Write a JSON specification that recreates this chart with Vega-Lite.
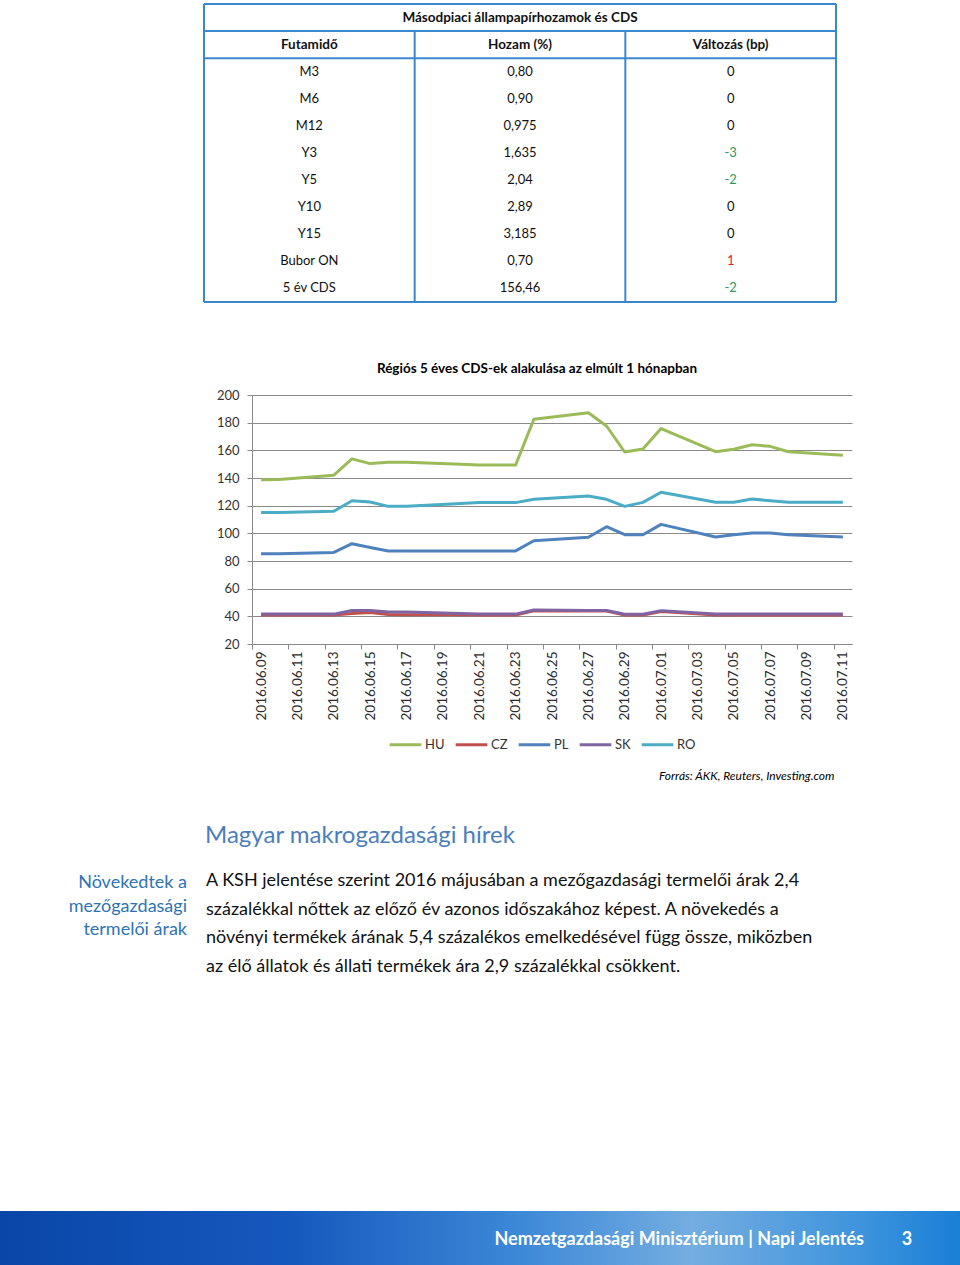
{
  "$schema": "https://vega.github.io/schema/vega-lite/v6.json",
  "padding": {"left": 0, "right": 0, "top": 3, "bottom": 0},
  "background": "white",
  "config": {"font": "Lato", "view": {"stroke": null}},
  "datasets": {
    "allampapir": [
      {"Futamidő": "M3", "Hozam (%)": "0,80", "Változás (bp)": 0},
      {"Futamidő": "M6", "Hozam (%)": "0,90", "Változás (bp)": 0},
      {"Futamidő": "M12", "Hozam (%)": "0,975", "Változás (bp)": 0},
      {"Futamidő": "Y3", "Hozam (%)": "1,635", "Változás (bp)": -3},
      {"Futamidő": "Y5", "Hozam (%)": "2,04", "Változás (bp)": -2},
      {"Futamidő": "Y10", "Hozam (%)": "2,89", "Változás (bp)": 0},
      {"Futamidő": "Y15", "Hozam (%)": "3,185", "Változás (bp)": 0},
      {"Futamidő": "Bubor ON", "Hozam (%)": "0,70", "Változás (bp)": 1},
      {"Futamidő": "5 év CDS", "Hozam (%)": "156,46", "Változás (bp)": -2}
    ],
    "cds": [
      {"dátum": "2016/06/09", "HU": 138.8, "CZ": 41.0, "PL": 85.2, "SK": 41.6, "RO": 115.0},
      {"dátum": "2016/06/10", "HU": 139.0, "CZ": 41.0, "PL": 85.3, "SK": 41.6, "RO": 115.0},
      {"dátum": "2016/06/13", "HU": 142.0, "CZ": 41.0, "PL": 86.2, "SK": 41.6, "RO": 116.0},
      {"dátum": "2016/06/14", "HU": 153.8, "CZ": 42.0, "PL": 92.5, "SK": 44.2, "RO": 123.6},
      {"dátum": "2016/06/15", "HU": 150.4, "CZ": 42.8, "PL": 89.8, "SK": 44.3, "RO": 122.6},
      {"dátum": "2016/06/16", "HU": 151.3, "CZ": 41.3, "PL": 87.3, "SK": 43.2, "RO": 119.5},
      {"dátum": "2016/06/17", "HU": 151.3, "CZ": 41.2, "PL": 87.3, "SK": 43.1, "RO": 119.6},
      {"dátum": "2016/06/20", "HU": 150.0, "CZ": 41.2, "PL": 87.3, "SK": 42.0, "RO": 121.6},
      {"dátum": "2016/06/21", "HU": 149.4, "CZ": 41.0, "PL": 87.3, "SK": 41.6, "RO": 122.2},
      {"dátum": "2016/06/22", "HU": 149.4, "CZ": 41.0, "PL": 87.3, "SK": 41.6, "RO": 122.2},
      {"dátum": "2016/06/23", "HU": 149.4, "CZ": 41.0, "PL": 87.3, "SK": 41.6, "RO": 122.2},
      {"dátum": "2016/06/24", "HU": 182.4, "CZ": 44.0, "PL": 94.6, "SK": 44.6, "RO": 124.6},
      {"dátum": "2016/06/27", "HU": 187.2, "CZ": 43.8, "PL": 97.2, "SK": 44.2, "RO": 127.0},
      {"dátum": "2016/06/28", "HU": 177.6, "CZ": 43.8, "PL": 104.8, "SK": 44.2, "RO": 124.6},
      {"dátum": "2016/06/29", "HU": 158.8, "CZ": 41.0, "PL": 99.0, "SK": 41.5, "RO": 119.5},
      {"dátum": "2016/06/30", "HU": 161.0, "CZ": 41.0, "PL": 99.0, "SK": 41.5, "RO": 122.4},
      {"dátum": "2016/07/01", "HU": 175.7, "CZ": 43.5, "PL": 106.5, "SK": 44.0, "RO": 129.7},
      {"dátum": "2016/07/04", "HU": 159.0, "CZ": 41.0, "PL": 97.4, "SK": 41.6, "RO": 122.4},
      {"dátum": "2016/07/05", "HU": 160.8, "CZ": 41.0, "PL": 98.9, "SK": 41.6, "RO": 122.4},
      {"dátum": "2016/07/06", "HU": 164.0, "CZ": 41.0, "PL": 100.2, "SK": 41.6, "RO": 124.8},
      {"dátum": "2016/07/07", "HU": 162.9, "CZ": 41.0, "PL": 100.2, "SK": 41.6, "RO": 123.6},
      {"dátum": "2016/07/08", "HU": 159.0, "CZ": 41.0, "PL": 99.0, "SK": 41.6, "RO": 122.4},
      {"dátum": "2016/07/11", "HU": 156.46, "CZ": 41.0, "PL": 97.3, "SK": 41.6, "RO": 122.4}
    ]
  },
  "spacing": 43,
  "vconcat": [
    {
      "width": 836,
      "height": 298,
      "encoding": {
        "x": {"field": "oszlop", "type": "nominal", "scale": {"type": "band", "domain": ["Futamidő", "Hozam (%)", "Változás (bp)"], "range": [204, 836], "paddingInner": 0, "paddingOuter": 0}, "axis": {"labels": false, "ticks": false, "domain": false, "grid": false, "title": null, "minExtent": 16, "maxExtent": 16}},
        "y": {"field": "Futamidő", "type": "nominal", "scale": {"type": "band", "domain": ["_cím", "_fejléc", "M3", "M6", "M12", "Y3", "Y5", "Y10", "Y15", "Bubor ON", "5 év CDS"], "paddingInner": 0, "paddingOuter": 0}, "axis": null}
      },
      "layer": [
        {
          "data": {"name": "allampapir"},
          "transform": [{"fold": ["Futamidő", "Hozam (%)", "Változás (bp)"], "as": ["oszlop", "érték"]}],
          "mark": {"type": "text", "fontSize": 13},
          "encoding": {
            "text": {"field": "érték"},
            "color": {
              "condition": [
                {"test": "datum.oszlop === 'Változás (bp)' && datum['érték'] < 0", "value": "#2e9a5a"},
                {"test": "datum.oszlop === 'Változás (bp)' && datum['érték'] > 0", "value": "#e3222b"}
              ],
              "value": "#111111"
            }
          }
        },
        {
          "data": {"name": "allampapir"},
          "transform": [
            {"fold": ["Futamidő", "Hozam (%)", "Változás (bp)"], "as": ["oszlop", "érték"]},
            {"aggregate": [{"op": "count", "as": "db"}], "groupby": ["oszlop"]}
          ],
          "mark": {"type": "text", "fontSize": 13.5, "fontWeight": "bold", "color": "#111111"},
          "encoding": {
            "y": {"datum": "_fejléc", "type": "nominal"},
            "text": {"field": "oszlop"}
          }
        },
        {
          "data": {"values": [{"cím": "Másodpiaci állampapírhozamok és CDS"}]},
          "mark": {"type": "text", "fontSize": 13.5, "fontWeight": "bold", "color": "#111111"},
          "encoding": {
            "x": {"datum": "Hozam (%)", "type": "nominal"},
            "y": {"datum": "_cím", "type": "nominal"},
            "text": {"field": "cím"}
          }
        },
        {
          "data": {"values": [{"határ": "_cím"}, {"határ": "_fejléc"}, {"határ": "M3"}]},
          "mark": {"type": "rule", "color": "#3a87d0", "strokeWidth": 2},
          "encoding": {
            "x": {"datum": "Futamidő", "type": "nominal", "bandPosition": 0},
            "x2": {"value": "width"},
            "y": {"field": "határ", "type": "nominal", "bandPosition": 0}
          }
        },
        {
          "data": {"values": [{}]},
          "mark": {"type": "rule", "color": "#3a87d0", "strokeWidth": 2},
          "encoding": {
            "x": {"datum": "Futamidő", "type": "nominal", "bandPosition": 0},
            "x2": {"value": "width"},
            "y": {"value": "height"}
          }
        },
        {
          "data": {"values": [
            {"határ": "Futamidő", "kezdet": "_cím"},
            {"határ": "Hozam (%)", "kezdet": "_fejléc"},
            {"határ": "Változás (bp)", "kezdet": "_fejléc"}
          ]},
          "mark": {"type": "rule", "color": "#3a87d0", "strokeWidth": 2},
          "encoding": {
            "x": {"field": "határ", "type": "nominal", "bandPosition": 0},
            "y": {"field": "kezdet", "type": "nominal", "bandPosition": 0},
            "y2": {"value": "height"}
          }
        },
        {
          "data": {"values": [{}]},
          "mark": {"type": "rule", "color": "#3a87d0", "strokeWidth": 2},
          "encoding": {
            "x": {"value": "width"},
            "y": {"datum": "_cím", "type": "nominal", "bandPosition": 0},
            "y2": {"value": "height"}
          }
        }
      ]
    },
    {
      "width": 852,
      "height": 249,
      "title": {"text": "Régiós 5 éves CDS-ek alakulása az elmúlt 1 hónapban", "fontSize": 13.5, "fontWeight": "bold", "color": "#000000", "anchor": "middle", "frame": "group", "offset": 14, "dx": 111},
      "data": {"name": "cds"},
      "transform": [{"fold": ["HU", "CZ", "PL", "SK", "RO"], "as": ["ország", "cds"]}],
      "mark": {"type": "line", "strokeWidth": 3, "strokeJoin": "round"},
      "encoding": {
        "x": {
          "field": "dátum", "type": "temporal",
          "scale": {"domain": [{"year": 2016, "month": 6, "date": 8, "hours": 12}, {"year": 2016, "month": 7, "date": 11, "hours": 12}], "range": [252, 852], "nice": false},
          "axis": {
            "values": [
              {"year": 2016, "month": 6, "date": 9}, {"year": 2016, "month": 6, "date": 11}, {"year": 2016, "month": 6, "date": 13},
              {"year": 2016, "month": 6, "date": 15}, {"year": 2016, "month": 6, "date": 17}, {"year": 2016, "month": 6, "date": 19},
              {"year": 2016, "month": 6, "date": 21}, {"year": 2016, "month": 6, "date": 23}, {"year": 2016, "month": 6, "date": 25},
              {"year": 2016, "month": 6, "date": 27}, {"year": 2016, "month": 6, "date": 29}, {"year": 2016, "month": 7, "date": 1},
              {"year": 2016, "month": 7, "date": 3}, {"year": 2016, "month": 7, "date": 5}, {"year": 2016, "month": 7, "date": 7},
              {"year": 2016, "month": 7, "date": 9}, {"year": 2016, "month": 7, "date": 11}
            ],
            "format": "%Y.%m.%d",
            "labelAngle": 270, "labelAlign": "right", "labelBaseline": "middle",
            "labelFontSize": 13.5, "labelColor": "#2b2b2b", "labelPadding": 2, "labelFlush": false, "labelOverlap": false,
            "tickOffset": -9.09, "labelOffset": 9.09, "tickSize": 5, "tickColor": "#8a8a8a",
            "domainColor": "#8a8a8a", "grid": false,
            "title": "Forrás: ÁKK, Reuters, Investing.com",
            "titleFontSize": 12, "titleFontStyle": "italic", "titleFontWeight": "normal", "titleColor": "#000000",
            "titleAngle": 0, "titleAlign": "right", "titleBaseline": "middle", "titleX": 834, "titleY": 131
          }
        },
        "y": {
          "field": "cds", "type": "quantitative",
          "scale": {"domain": [20, 200], "nice": false, "zero": false},
          "axis": {
            "offset": -252,
            "values": [20, 40, 60, 80, 100, 120, 140, 160, 180, 200],
            "grid": true, "gridColor": "#8a8a8a", "domainColor": "#8a8a8a", "tickColor": "#8a8a8a", "tickSize": 5,
            "labelFontSize": 13, "labelColor": "#333333", "labelPadding": 8, "title": null
          }
        },
        "color": {
          "field": "ország", "type": "nominal",
          "scale": {"domain": ["HU", "CZ", "PL", "SK", "RO"], "range": ["#9bbb59", "#c0504d", "#4f81bd", "#8064a2", "#4bacc6"]},
          "legend": {
            "orient": "none", "legendX": 388, "legendY": 723, "direction": "horizontal", "title": null,
            "symbolType": "stroke", "symbolStrokeWidth": 3, "symbolSize": 1000,
            "labelFontSize": 13, "labelColor": "#333333", "labelOffset": 2, "columnPadding": 4
          }
        }
      }
    },
    {
      "width": 834,
      "height": 114,
      "title": {"text": "Magyar makrogazdasági hírek", "anchor": "start", "frame": "group", "dx": 205, "fontSize": 24, "fontWeight": "normal", "color": "#4a7ebb", "offset": 19},
      "encoding": {
        "x": {"field": "hasáb", "type": "nominal", "scale": {"type": "point", "domain": ["megjegyzés", "bekezdés"], "range": [187, 206], "padding": 0}, "axis": {"labels": false, "ticks": false, "domain": false, "grid": false, "title": null, "minExtent": 187, "maxExtent": 187}},
        "y": {"field": "sor", "type": "ordinal", "scale": {"type": "band", "domain": [1, 2, 3, 4], "paddingInner": 0, "paddingOuter": 0}, "axis": null}
      },
      "layer": [
        {
          "data": {"values": [
            {"hasáb": "bekezdés", "sor": 1, "szöveg": "A KSH jelentése szerint 2016 májusában a mezőgazdasági termelői árak 2,4"},
            {"hasáb": "bekezdés", "sor": 2, "szöveg": "százalékkal nőttek az előző év azonos időszakához képest. A növekedés a"},
            {"hasáb": "bekezdés", "sor": 3, "szöveg": "növényi termékek árának 5,4 százalékos emelkedésével függ össze, miközben"},
            {"hasáb": "bekezdés", "sor": 4, "szöveg": "az élő állatok és állati termékek ára 2,9 százalékkal csökkent."}
          ]},
          "mark": {"type": "text", "align": "left", "baseline": "middle", "fontSize": 18, "color": "#111111"},
          "encoding": {"text": {"field": "szöveg"}}
        },
        {
          "data": {"values": [
            {"hasáb": "megjegyzés", "sor": 1, "szöveg": "Növekedtek a\nmezőgazdasági\ntermelői árak"}
          ]},
          "mark": {"type": "text", "align": "right", "baseline": "middle", "dy": 2, "fontSize": 18, "lineBreak": "\n", "lineHeight": 23.5, "color": "#2e74b5"},
          "encoding": {"text": {"field": "szöveg"}}
        }
      ]
    },
    {
      "width": 960,
      "height": 54,
      "data": {"values": [{"szöveg": "Nemzetgazdasági Minisztérium | Napi Jelentés", "oldal": "3"}]},
      "layer": [
        {
          "mark": {"type": "rect", "fill": {"gradient": "linear", "x1": 0, "y1": 0, "x2": 1, "y2": 0, "stops": [
            {"offset": 0, "color": "#0a46a8"}, {"offset": 0.3, "color": "#1558bd"}, {"offset": 0.55, "color": "#3f8ad8"},
            {"offset": 0.72, "color": "#74ade0"}, {"offset": 0.9, "color": "#3d93dc"}, {"offset": 1, "color": "#1a7fd6"}
          ]}},
          "encoding": {"x": {"value": 0}, "x2": {"value": "width"}, "y": {"value": 0}, "y2": {"value": "height"}}
        },
        {
          "mark": {"type": "text", "align": "right", "dx": -96, "dy": 2, "color": "white", "fontSize": 18, "fontWeight": "bold"},
          "encoding": {"x": {"value": "width"}, "text": {"field": "szöveg"}}
        },
        {
          "mark": {"type": "text", "align": "center", "dx": -53, "dy": 2, "color": "white", "fontSize": 18, "fontWeight": "bold"},
          "encoding": {"x": {"value": "width"}, "text": {"field": "oldal"}}
        }
      ]
    }
  ]
}
